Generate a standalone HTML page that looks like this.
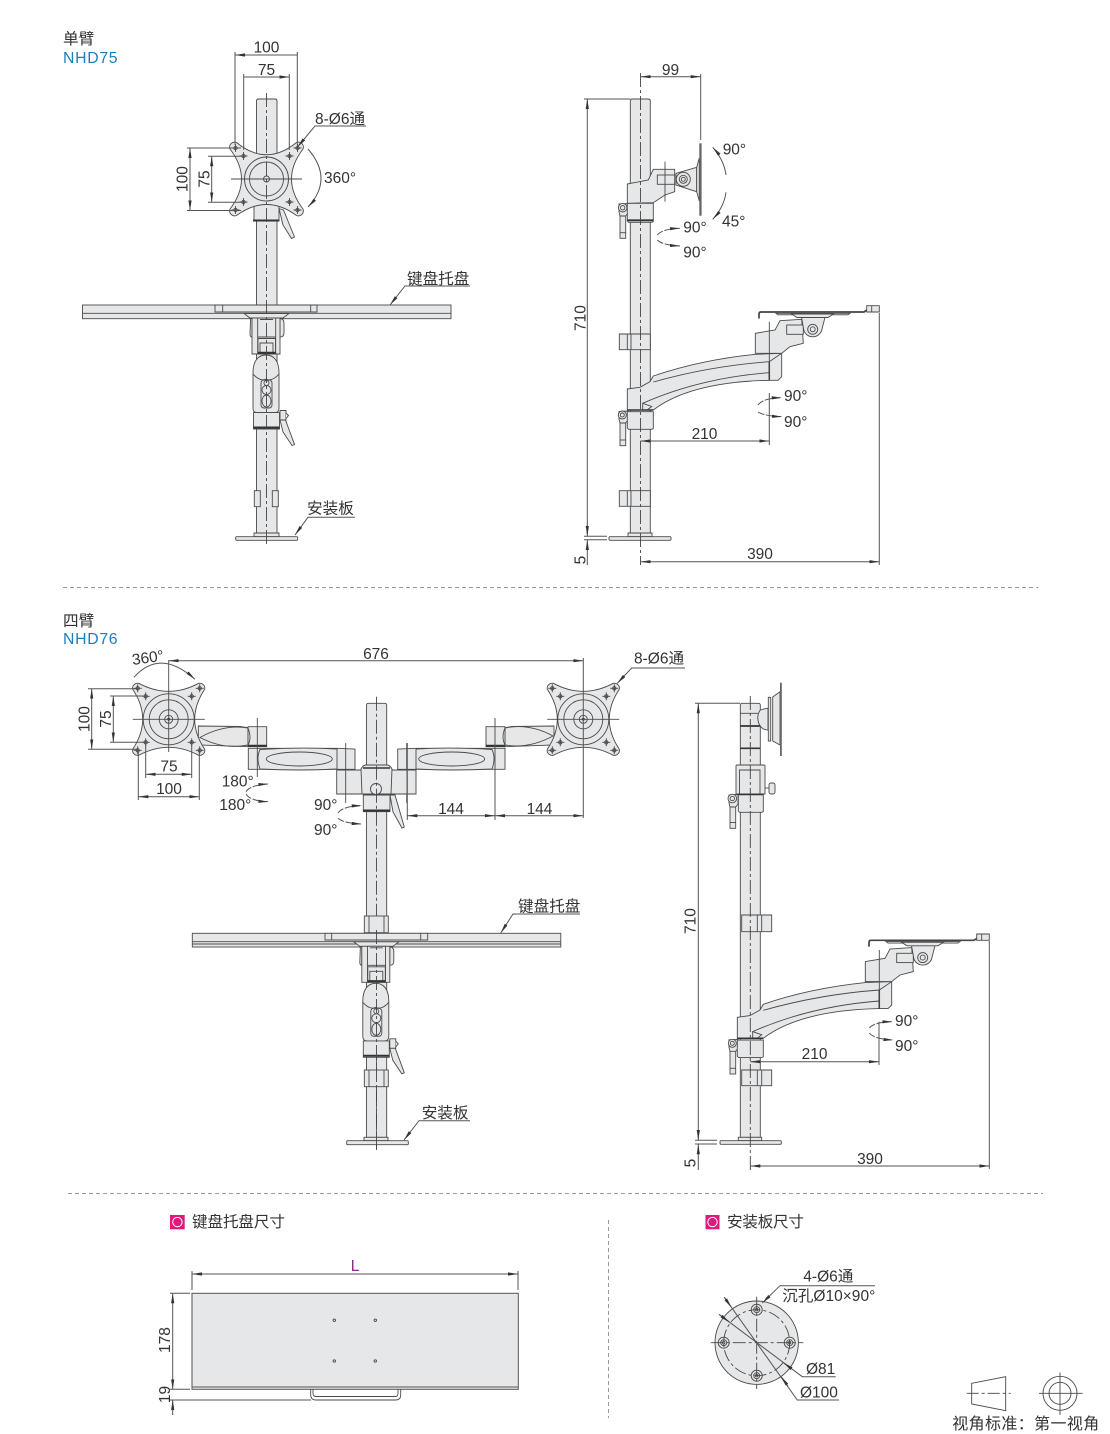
<!DOCTYPE html>
<html lang="zh">
<head>
<meta charset="utf-8">
<title>NHD75 / NHD76</title>
<style>
html,body{margin:0;padding:0;background:#fff;width:1110px;height:1434px;overflow:hidden}
svg{display:block}
text{font-family:"Liberation Sans","Noto Sans CJK SC",sans-serif;font-size:15.5px;fill:#333}
.m{text-anchor:middle}
.cjk{font-size:15.6px}
.blue{fill:#1d7fb8;font-size:15.8px;letter-spacing:.7px}
.s{fill:#e6e7e8;stroke:#4a4a4a;stroke-width:.9}
.l{fill:none;stroke:#4a4a4a;stroke-width:.9}
.d{fill:none;stroke:#555;stroke-width:1}
.c{fill:none;stroke:#444;stroke-width:.9;stroke-dasharray:14 3 3 3}
.dash{fill:none;stroke:#999;stroke-width:1;stroke-dasharray:4 3}
</style>
</head>
<body>
<svg width="1110" height="1434" viewBox="0 0 1110 1434" xmlns="http://www.w3.org/2000/svg">
<defs>
<marker id="a" markerUnits="userSpaceOnUse" markerWidth="10" markerHeight="4" refX="10" refY="2" orient="auto-start-reverse"><path d="M0,.4L10,2L0,3.6Z" fill="#333"/></marker>
<g id="hole"><circle r="1.800" fill="#8a8a8a" stroke="#4a4a4a" stroke-width=".7"/><path d="M-4,0H4M0,-4V4" class="l"/></g>
<g id="holes">
<use href="#hole" x="-31" y="-31"/><use href="#hole" x="31" y="-31"/><use href="#hole" x="-31" y="31"/><use href="#hole" x="31" y="31"/>
<use href="#hole" x="-23" y="-23"/><use href="#hole" x="23" y="-23"/><use href="#hole" x="-23" y="23"/><use href="#hole" x="23" y="23"/>
</g>
<path id="plate" d="M-30,-36.500Q0,-12 30,-36.500A5,5 0 0 1 36.500,-30Q13.500,0 36.500,30A5,5 0 0 1 30,36.500Q0,14.500 -30,36.500A5,5 0 0 1 -36.500,30Q-13.500,0 -36.500,-30A5,5 0 0 1 -30,-36.500Z" class="s"/>
<path id="plateb" d="M-30,-36Q0,-20 30,-36A5,5 0 0 1 36,-30Q16,0 36,30A5,5 0 0 1 30,36Q0,20 -30,36A5,5 0 0 1 -36,30Q-16,0 -36,-30A5,5 0 0 1 -30,-36Z" class="s"/>
<g id="plate2">
<use href="#plateb"/><circle r="25.500" class="l"/><circle r="19.500" class="l"/><circle r="9.500" class="l"/><circle r="4" class="l"/><circle r="1.500" fill="#333"/>
<use href="#holes"/>
<path d="M-36,0H36" class="l"/>
</g>
<g id="joint">
<path d="M244,313.500H289L283,318H250Z" class="s"/>
<path d="M250.500,320Q250,318.500 252,318.500V337H252Q250,337 250,334Z" class="s"/>
<path d="M280,318.500Q284,319 284,323V333Q284,337 280,337Z" class="s"/>
<path d="M252,318H280V354H252Z" class="s"/>
<path d="M257.700,318H275.700V354H257.700Z" class="s"/>
<path d="M260,319.500H273M257.700,337H275.700" class="l"/>
<path d="M258,338.500H275.500V353H258Z" class="s"/>
<path d="M260,343H273V353H260Z" class="l"/>
<path d="M258,352.800H275.500" stroke="#333" stroke-width="2" fill="none"/>
<path d="M253,373C253,361 258,355 266,355C274,355 279,361 279,373V408Q279,412.600 275,412.600H257Q253,412.600 253,408Z" class="s"/>
<path d="M253,374Q260,382 266,379Q272,382 279,374" class="l"/>
<rect x="261" y="380" width="11" height="28" rx="3" class="l"/>
<circle cx="266.500" cy="390" r="4.500" class="l"/><ellipse cx="266.500" cy="401" rx="4.500" ry="6" class="l"/><circle cx="266.500" cy="383" r="2.500" class="l"/>
<path d="M280,410.500H286V420H280Z" class="s"/>
<path d="M286,413L288.500,415.500L286,418.500" class="s"/>
<path d="M280,420H285.500L294.500,444.500L292,445.500L283,432Z" class="s"/>
<path d="M253.500,412.600H279.500V429H253.500Z" class="s"/>
<path d="M253.500,427.500H279.500" stroke="#333" stroke-width="2" fill="none"/>
</g>
<g id="sidearm">
<rect x="620" y="420" width="5.700" height="25.700" class="s"/>
<path d="M620,440H625.700" class="l"/>
<path d="M619,411.500L628,411V420L625.700,423H620L619,419Z" class="s"/>
<circle cx="622.300" cy="415" r="4" class="s"/><circle cx="622.300" cy="415" r="2" class="l"/>
<path d="M627.300,411.700H653.300V428.500L652,429.300H628.500L627.300,428Z" class="s"/>
<path d="M627.300,389L640,387.300L650,381.700L653.300,376Q700,360 755.300,354.300L781.700,353.300V376.700L778,380.300H769.300Q690,382 653.300,410H627.300Z" class="s"/>
<path d="M653.300,382Q710,366 769.300,361.700L781.700,353.300" class="l"/>
<path d="M642.700,403.300Q700,378 769.300,372.700" class="l"/>
<path d="M642.700,403.300L651.700,406.500L647,410H642.700Z" class="s"/>
<path d="M627.300,410H653.300" stroke="#333" stroke-width="1.500" fill="none"/>
<path d="M769.300,361.700V380.300" stroke="#333" stroke-width="1.500" fill="none"/>
<path d="M755.300,333.300L775,330L780,320.700L801.700,319.300L803.300,343.300L790,346.700L781.700,353.300H755.300Z" class="s"/>
<rect x="786.700" y="325" width="16.600" height="9.300" class="s"/>
<path d="M801.500,317.300H825L821.500,331A9.500,9.500 0 0 1 804,331Z" class="s"/>
<circle cx="812.700" cy="329.300" r="5" class="l"/><circle cx="812.700" cy="329.300" r="2.500" class="l"/>
<path d="M769.300,321.700V380" class="l"/>
<path d="M776,313.300H850L848,314.800H778Z" class="s"/>
<path d="M791.700,314H833.300L828,317.500H797Z" class="s"/>
<path d="M759,318.500V314Q759,312 761,312H864L867,310" fill="none" stroke="#444" stroke-width="1.700"/>
<path d="M866.700,305.700H879.300V312H866.700ZM871.700,305.700V312" class="s"/>
</g>
</defs>

<!-- ==================== SECTION 1 : front view ==================== -->
<text x="63" y="44" class="cjk">单臂</text>
<text x="63" y="63" class="blue">NHD75</text>

<path d="M256.500,101Q256.500,99 258.500,99H275Q277,99 277,101V533H256.500Z" class="s"/>
<path d="M254,200H279V221H254Z" class="s"/>
<path d="M253,220.500H279.500" stroke="#333" stroke-width="2" fill="none"/>
<path d="M279,208.500L283.500,210L294.500,237L291.500,238.500L283,225Z" class="s"/>
<use href="#plate" x="266.500" y="179"/>
<circle cx="266.500" cy="179" r="22" class="l"/><circle cx="266.500" cy="179" r="17" class="l"/><circle cx="266.500" cy="179" r="3" class="l"/>
<use href="#holes" x="266.500" y="179"/>
<path d="M231,179H302" class="l"/>

<rect x="82.500" y="305" width="368.500" height="13.700" class="s"/>
<path d="M82.500,313.300H451" class="l"/>
<path d="M215,305H317V312H215ZM222.700,305V312M310.700,305V312" class="s"/>
<use href="#joint"/>
<path d="M254.300,490.700h6v16h-6zM272.300,490.700h6v16h-6z" class="s"/>
<path d="M254,533H279V536.700H254Z" class="s"/>
<rect x="235.700" y="536.700" width="62" height="3.600" rx="1" class="s"/>
<path d="M266.500,93V545" class="c"/>

<!-- dims -->
<path d="M235,52V145M297.300,52V145M243.700,74V150M289.300,74V150" class="d"/>
<path d="M235,55H297.300M243.700,77H289.300" class="d" marker-start="url(#a)" marker-end="url(#a)"/>
<text x="266.500" y="52.700" class="m">100</text>
<text x="266.500" y="75" class="m">75</text>
<path d="M187,148H241M187,210.500H241M208,156.300H243M208,202.300H243" class="d"/>
<path d="M190,148V210.500" class="d" marker-start="url(#a)" marker-end="url(#a)"/>
<path d="M211.700,156.300V202.300" class="d" marker-start="url(#a)" marker-end="url(#a)"/>
<text transform="translate(187.500,179) rotate(-90)" class="m">100</text>
<text transform="translate(209.500,179) rotate(-90)" class="m">75</text>
<path d="M366,126H315L297.500,147" class="d" marker-end="url(#a)"/>
<text x="315" y="124">8-Ø6<tspan class="cjk">通</tspan></text>
<path d="M308,149Q334,179 308,207" class="d" marker-end="url(#a)"/>
<text x="324" y="183">360°</text>
<path d="M470,286H405L390,305" class="d" marker-end="url(#a)"/>
<text x="407" y="284" class="cjk">键盘托盘</text>
<path d="M355,517.300H308L295,535" class="d" marker-end="url(#a)"/>
<text x="307" y="513.500" class="cjk">安装板</text>

<!-- ==================== SECTION 1 : side view ==================== -->
<path d="M630.300,101Q630.300,99 632.300,99H648.300Q650.300,99 650.300,101V533H630.300Z" class="s"/>
<path d="M620,213H625.700V238.300H620Z" class="s"/>
<path d="M620,232.700H625.700" class="l"/>
<path d="M619,204L628,203.500V213L625.700,216H620L619,212Z" class="s"/>
<circle cx="622.700" cy="207.700" r="4.300" class="s"/><circle cx="622.700" cy="207.700" r="2.200" class="l"/>
<path d="M627.300,203.300H653.300V221.500L652,222.300H628.500L627.300,221Z" class="s"/>
<path d="M627.300,220.300H653.300" stroke="#333" stroke-width="1.800" fill="none"/>
<path d="M627.300,184L648.300,180L653.300,169.300H674.700V191.700L665,195L653.300,202.700L627.300,203.300Z" class="s"/>
<rect x="657.300" y="175" width="17.400" height="9.300" class="s"/>
<path d="M676,173.300L696.700,167.300V191.700L676,185Z" class="s"/>
<circle cx="683.300" cy="179.300" r="7" class="s"/><circle cx="683.300" cy="179.300" r="4" class="l"/><circle cx="683.300" cy="179.300" r="2" class="l"/>
<path d="M696.700,167.300L699.300,158V201L696.700,191.700Z" class="s"/>
<rect x="699.300" y="143.300" width="2.300" height="72.400" fill="#666"/>
<path d="M665,161.700V201.700" class="l"/>

<path d="M619.300,334H650.300V349.700H619.300ZM627.300,334V349.700M631,334V349.700" class="s"/>
<path d="M619.300,490.700H650.300V506.300H619.300ZM627.300,490.700V506.300M631,490.700V506.300" class="s"/>
<use href="#sidearm"/>
<path d="M628,533H652V536.700H628Z" class="s"/>
<rect x="609" y="536.700" width="62" height="3.600" rx="1" class="s"/>
<path d="M640.500,73V565" class="c"/>

<!-- dims -->
<path d="M700.700,74V140" class="d"/>
<path d="M640.500,76.700H700.700" class="d" marker-start="url(#a)" marker-end="url(#a)"/>
<text x="670.500" y="75" class="m">99</text>
<path d="M584,99H630M584,536.300H607M584,539.700H607" class="d"/>
<path d="M587.300,534V99" class="d" marker-end="url(#a)"/>
<path d="M587.300,525V536" class="d" marker-end="url(#a)"/>
<path d="M587.300,565V540" class="d" marker-end="url(#a)"/>
<text transform="translate(585.500,318) rotate(-90)" class="m">710</text>
<text transform="translate(585.500,560) rotate(-90)" class="m">5</text>
<path d="M879.300,313V565M769.300,393V445" class="d"/>
<path d="M640.500,561.700H879.300" class="d" marker-start="url(#a)" marker-end="url(#a)"/>
<text x="760" y="559" class="m">390</text>
<path d="M640.500,441H769.300" class="d" marker-start="url(#a)" marker-end="url(#a)"/>
<text x="704.500" y="439" class="m">210</text>
<path d="M758,405Q763,398 781.700,397.700" class="d" stroke-dasharray="7 1.500" marker-end="url(#a)"/>
<path d="M758,412Q764,416 782,416.700" class="d" stroke-dasharray="7 1.500" marker-end="url(#a)"/>
<text x="784" y="401">90°</text>
<text x="784" y="427">90°</text>
<path d="M726,175Q724,160 712.700,147.300" class="d" marker-end="url(#a)"/>
<path d="M726,192.300Q724,207 712.700,219.300" class="d" marker-end="url(#a)"/>
<text x="722.700" y="154.300">90°</text>
<text x="722" y="226.500">45°</text>
<path d="M657.300,235Q662,229 680,228.300" class="d" stroke-dasharray="7 1.500" marker-end="url(#a)"/>
<path d="M657.300,240Q662,245 680,246" class="d" stroke-dasharray="7 1.500" marker-end="url(#a)"/>
<text x="683.300" y="232.700">90°</text>
<text x="683.300" y="257.300">90°</text>

<path d="M63,587.500H1038" class="dash"/>

<!-- ==================== SECTION 2 : front view ==================== -->
<text x="63" y="626" class="cjk">四臂</text>
<text x="63" y="644" class="blue">NHD76</text>

<!-- pole -->
<path d="M366.500,705.300Q366.500,703.300 368.500,703.300H384.700Q386.700,703.300 386.700,705.300V1137.300H366.500Z" class="s"/>

<!-- left arms -->
<path d="M198.300,726L240,726.500L248,727.700V746.700L198.300,745Z" class="s"/>
<path d="M248,726.700H266.700V746.700H248Z" class="s"/>
<path d="M200,737.500Q224,724 248,728Q252,738 248,745Q224,750 200,737.500Z" class="l"/>
<path d="M248,745.800H266.700" stroke="#333" stroke-width="2" fill="none"/>
<path d="M248.300,748.300H336.700L355,749V769.300H248.300Z" class="s"/>
<path d="M260,749.500Q256,758 260,769Q300,771 337,769V749Q300,747 260,749.500Z" class="s"/>
<ellipse cx="299.300" cy="759" rx="33" ry="7" class="l"/>
<path d="M257.300,718V777M345.700,743V803" class="l"/>

<!-- right arms -->
<path d="M554,726L512,726.500L505,727.700V746.700L554,745Z" class="s"/>
<path d="M486,726.700H505V746.700H486Z" class="s"/>
<path d="M553,736Q529,723 505,728Q501,737 505,745Q529,749 553,736Z" class="l"/>
<path d="M486,745.800H505" stroke="#333" stroke-width="2" fill="none"/>
<path d="M505,748.300H416L397.700,749V769.300H505Z" class="s"/>
<path d="M416,749V769Q452,771 492,769Q496,758 492,749.500Q452,747 416,749Z" class="s"/>
<ellipse cx="451.700" cy="759" rx="33" ry="7" class="l"/>
<path d="M406.700,743V803" class="l"/>

<!-- central block -->
<path d="M336.700,770H416V794H336.700Z" class="s"/>
<path d="M361,769Q363,765 366,765H387Q390,765 392,769L391,794H362Z" class="s"/>
<path d="M363,768H390" stroke="#333" stroke-width="1.500" fill="none"/>
<path d="M345.700,770V794M407,770V794" class="l"/>
<circle cx="376" cy="789" r="5.500" class="s"/>
<path d="M363.300,795H390V811.700H363.300Z" class="s"/>
<path d="M363.300,810.500H390" stroke="#333" stroke-width="2" fill="none"/>
<path d="M390,795H395L404.300,827L402,828L393,812Z" class="s"/>

<use href="#plate2" x="168.700" y="719.300"/>
<use href="#plate2" x="583.300" y="719.300"/>
<path d="M376.500,696.700V1150" class="c"/>
<path d="M168.700,660V752" class="l"/>

<!-- tray & clamps -->
<rect x="364.300" y="916" width="24" height="16.700" class="s"/>
<path d="M369,916V932.700M384,916V932.700" class="l"/>
<rect x="192.300" y="933.300" width="368.500" height="13.700" class="s"/>
<path d="M192.300,941.700H560.800M192.300,944H560.800" class="l"/>
<path d="M325,933.300H427.700V940H325ZM331.700,933.300V940M420.700,933.300V940" class="s"/>
<use href="#joint" x="109.800" y="628.300"/>
<rect x="364.300" y="1070" width="24" height="16.700" class="s"/>
<path d="M369,1070V1086.700M384,1070V1086.700" class="l"/>
<path d="M364,1137.300H388V1140.700H364Z" class="s"/>
<rect x="346.700" y="1140.700" width="61.600" height="4" rx="1" class="s"/>
<path d="M376.500,930V1150" class="c"/>

<!-- dims -->
<path d="M583.300,658V818M495,718V820M407.300,743V820" class="d"/>
<path d="M168.700,660.700H583.300" class="d" marker-start="url(#a)" marker-end="url(#a)"/>
<text x="376" y="659" class="m">676</text>
<path d="M407.300,815.700H495" class="d" marker-start="url(#a)" marker-end="url(#a)"/>
<path d="M495,815.700H583.300" class="d" marker-start="url(#a)" marker-end="url(#a)"/>
<text x="451" y="814" class="m">144</text>
<text x="539.500" y="814" class="m">144</text>
<path d="M134,677.300Q160,648 195,679.300" class="d" marker-end="url(#a)"/>
<text x="132.700" y="665" transform="rotate(-8 132.700 665)">360°</text>
<path d="M88,688.700H138M88,749.300H138M110,696H146M110,742.300H146" class="d"/>
<path d="M91.700,688.700V749.300" class="d" marker-start="url(#a)" marker-end="url(#a)"/>
<path d="M113.300,696V742.300" class="d" marker-start="url(#a)" marker-end="url(#a)"/>
<text transform="translate(89.300,719) rotate(-90)" class="m">100</text>
<text transform="translate(111,719) rotate(-90)" class="m">75</text>
<path d="M145.700,745V778M191.700,745V778M138.300,752V800M199.300,752V800" class="d"/>
<path d="M145.700,774.300H191.700" class="d" marker-start="url(#a)" marker-end="url(#a)"/>
<path d="M138.300,796.700H199.300" class="d" marker-start="url(#a)" marker-end="url(#a)"/>
<text x="169" y="771.700" class="m">75</text>
<text x="169" y="794" class="m">100</text>
<path d="M246,791.700Q250,785 268.300,784" class="d" stroke-dasharray="7 1.500" marker-end="url(#a)"/>
<path d="M246,794Q250,801 268.300,801.700" class="d" stroke-dasharray="7 1.500" marker-end="url(#a)"/>
<text x="221.700" y="786.700">180°</text>
<text x="219.300" y="810">180°</text>
<path d="M338,813Q343,806 361.700,805.700" class="d" stroke-dasharray="7 1.500" marker-end="url(#a)"/>
<path d="M338,818.300Q343,823 361.700,824" class="d" stroke-dasharray="7 1.500" marker-end="url(#a)"/>
<text x="314" y="810">90°</text>
<text x="314" y="835">90°</text>
<path d="M685,668H631.700L617.300,683.300" class="d" marker-end="url(#a)"/>
<text x="634" y="663.500">8-Ø6<tspan class="cjk">通</tspan></text>
<path d="M580,914H513L500.700,933" class="d" marker-end="url(#a)"/>
<text x="518" y="911.700" class="cjk">键盘托盘</text>
<path d="M470,1120.700H419L404,1140" class="d" marker-end="url(#a)"/>
<text x="421.700" y="1118" class="cjk">安装板</text>

<!-- ==================== SECTION 2 : side view ==================== -->
<path d="M740.300,705.300Q740.300,703.300 742.300,703.300H758.300Q760.300,703.300 760.300,705.300V1137.300H740.300Z" class="s"/>
<path d="M740.300,713.300H760.300" class="l"/>
<path d="M740.300,726H760.300M740.300,748.300H760.300M740.300,770H760.300" stroke="#333" stroke-width="1.700" fill="none"/>
<path d="M760.300,710Q768,708 768,708.300V730Q762,730 759,724Q756,716 760.300,710Z" class="s"/>
<rect x="768.300" y="697.300" width="2.400" height="43.700" class="s"/>
<path d="M772.700,697L780,691.700V745L772.700,741Z" class="s"/>
<rect x="780" y="682.700" width="1.800" height="73.300" fill="#666"/>
<path d="M736,766Q736,765 737,765H764Q765,765 765,766V794H736Z" class="s"/>
<path d="M739.500,770H760V794H739.500Z" class="s"/>
<path d="M765,788H770" class="l"/>
<rect x="769" y="783" width="6" height="11" rx="2" class="s"/>
<path d="M738.300,794H763.300V811.500L762,812.300H739.500L738.300,811Z" class="s"/>
<path d="M738,794.500H763" stroke="#333" stroke-width="1.500" fill="none"/>
<rect x="730" y="803" width="5.700" height="25.300" class="s"/>
<path d="M730,822.500H735.700" class="l"/>
<path d="M729,795L738,794.500V804L735.700,807H730L729,803Z" class="s"/>
<circle cx="732.300" cy="798.500" r="4.300" class="s"/><circle cx="732.300" cy="798.500" r="2.200" class="l"/>

<path d="M741.700,915H771.700V931.700H741.700ZM757.300,915V931.700M761.700,915V931.700" class="s"/>
<path d="M741.700,1070H771.700V1085.700H741.700ZM757.300,1070V1085.700M761.700,1070V1085.700" class="s"/>
<use href="#sidearm" x="110" y="628.300"/>
<path d="M738.300,1137.300H761.700V1140.700H738.300Z" class="s"/>
<rect x="720" y="1140.700" width="61.300" height="3.600" rx="1" class="s"/>
<path d="M750.300,696V1170" class="c"/>

<path d="M695,703.300H740M695,1140.300H717M695,1144H717" class="d"/>
<path d="M698.300,1138V703.300" class="d" marker-end="url(#a)"/>
<path d="M698.300,1130V1140" class="d" marker-end="url(#a)"/>
<path d="M698.300,1170V1144.300" class="d" marker-end="url(#a)"/>
<text transform="translate(695.500,921) rotate(-90)" class="m">710</text>
<text transform="translate(695.500,1163) rotate(-90)" class="m">5</text>
<path d="M989.300,941V1169M879,1021.700V1065" class="d"/>
<path d="M750.300,1166H989.300" class="d" marker-start="url(#a)" marker-end="url(#a)"/>
<text x="870" y="1164" class="m">390</text>
<path d="M750.300,1061.700H879" class="d" marker-start="url(#a)" marker-end="url(#a)"/>
<text x="814.600" y="1059" class="m">210</text>
<path d="M869.300,1028Q874,1022 892.300,1021.700" class="d" stroke-dasharray="7 1.500" marker-end="url(#a)"/>
<path d="M869.300,1033Q874,1039 893.300,1040" class="d" stroke-dasharray="7 1.500" marker-end="url(#a)"/>
<text x="895" y="1026">90°</text>
<text x="895" y="1051">90°</text>

<path d="M68,1193.500H1043" class="dash"/>
<path d="M608.500,1220V1418" class="dash"/>

<!-- ==================== SECTION 3 ==================== -->
<rect x="170" y="1215" width="14.700" height="14.300" fill="#e2187f"/>
<circle cx="177.400" cy="1222.100" r="4.700" fill="none" stroke="#fff" stroke-width="1"/>
<text x="192" y="1227" class="cjk" textLength="93">键盘托盘尺寸</text>
<rect x="705.500" y="1215" width="14" height="14.300" fill="#e2187f"/>
<circle cx="712.500" cy="1222.100" r="4.700" fill="none" stroke="#fff" stroke-width="1"/>
<text x="727" y="1227" class="cjk" textLength="77">安装板尺寸</text>

<text x="355" y="1271" class="m" style="fill:#8e2a8e;font-size:15.500px">L</text>
<path d="M192,1271V1290M518,1271V1290" class="d"/>
<path d="M192,1274H518" class="d" marker-start="url(#a)" marker-end="url(#a)"/>
<rect x="192" y="1293.300" width="326.300" height="96" fill="#e6e7e8" stroke="#555" stroke-width="1"/>
<path d="M192,1387H518" stroke="#555" stroke-width="1" fill="none"/>
<path d="M310.700,1389.300V1395Q310.700,1400 316,1400H395.500Q400.700,1400 400.700,1395V1389.300" class="l"/>
<path d="M313,1389.300V1393Q313,1396.500 316,1396.500H395.500Q398,1396.500 398,1393V1389.300" class="l"/>
<circle cx="334.300" cy="1320.300" r="1.200" fill="#eee" stroke="#444" stroke-width=".9"/>
<circle cx="375.300" cy="1320.300" r="1.200" fill="#eee" stroke="#444" stroke-width=".9"/>
<circle cx="334.300" cy="1361" r="1.200" fill="#eee" stroke="#444" stroke-width=".9"/>
<circle cx="375.300" cy="1361" r="1.200" fill="#eee" stroke="#444" stroke-width=".9"/>
<path d="M170,1293.300H190M170,1389.300H190M170,1400H311" class="d"/>
<path d="M172.700,1293.300V1389.300" class="d" marker-start="url(#a)" marker-end="url(#a)"/>
<path d="M172.700,1415V1400" class="d" marker-end="url(#a)"/>
<text transform="translate(170,1340) rotate(-90)" class="m">178</text>
<text transform="translate(170,1394.500) rotate(-90)" class="m">19</text>

<circle cx="756.700" cy="1342.700" r="41.700" class="s"/>
<circle cx="756.700" cy="1342.700" r="33" fill="none" stroke="#444" stroke-width=".9" stroke-dasharray="12 3 3 3"/>
<g id="mh"><circle cx="756.700" cy="1309.700" r="5.500" class="l"/><circle cx="756.700" cy="1309.700" r="3" class="l"/><circle cx="756.700" cy="1309.700" r="1.200" class="l"/></g>
<use href="#mh" y="66"/>
<g><circle cx="723.700" cy="1342.700" r="5.500" class="l"/><circle cx="723.700" cy="1342.700" r="3" class="l"/><circle cx="723.700" cy="1342.700" r="1.200" class="l"/><circle cx="789.700" cy="1342.700" r="5.500" class="l"/><circle cx="789.700" cy="1342.700" r="3" class="l"/><circle cx="789.700" cy="1342.700" r="1.200" class="l"/></g>
<path d="M710.700,1342.700H803.300M756.700,1296.700V1389" fill="none" stroke="#444" stroke-width=".9" stroke-dasharray="13 3 3 3"/>
<path d="M724.300,1297.300L797.300,1400H839" class="d"/>
<path d="M719,1314.300L802.300,1376.700H835.700" class="d"/>
<path d="M724.300,1297.300L731.500,1307.500" class="d" marker-end="url(#a)"/>
<path d="M719,1314.300L729.500,1322.200" class="d" marker-end="url(#a)"/>
<path d="M788,1386L781,1376.600" class="d" marker-end="url(#a)"/>
<path d="M792,1369L783.500,1362.800" class="d" marker-end="url(#a)"/>
<text x="806" y="1374">Ø81</text>
<text x="800" y="1397.300">Ø100</text>
<path d="M875,1285.700H780L762.300,1303" class="d" marker-end="url(#a)"/>
<text x="803.300" y="1281.700">4-Ø6<tspan class="cjk">通</tspan></text>
<text x="782.300" y="1301" textLength="93">沉孔Ø10×90°</text>

<path d="M971.700,1383.300L1005.700,1376.700V1410.700L971.700,1404Z" class="l"/>
<path d="M966.700,1393.300H1010.700" fill="none" stroke="#444" stroke-width=".9" stroke-dasharray="12 3 3 3"/>
<circle cx="1060" cy="1393.300" r="17" class="l"/>
<circle cx="1060" cy="1393.300" r="11" class="l"/>
<path d="M1039,1393.300H1082.700M1060,1372.500V1415" class="l"/>
<text x="952.300" y="1429" style="font-size:16px" textLength="147">视角标准：第一视角</text>
</svg>
</body>
</html>
